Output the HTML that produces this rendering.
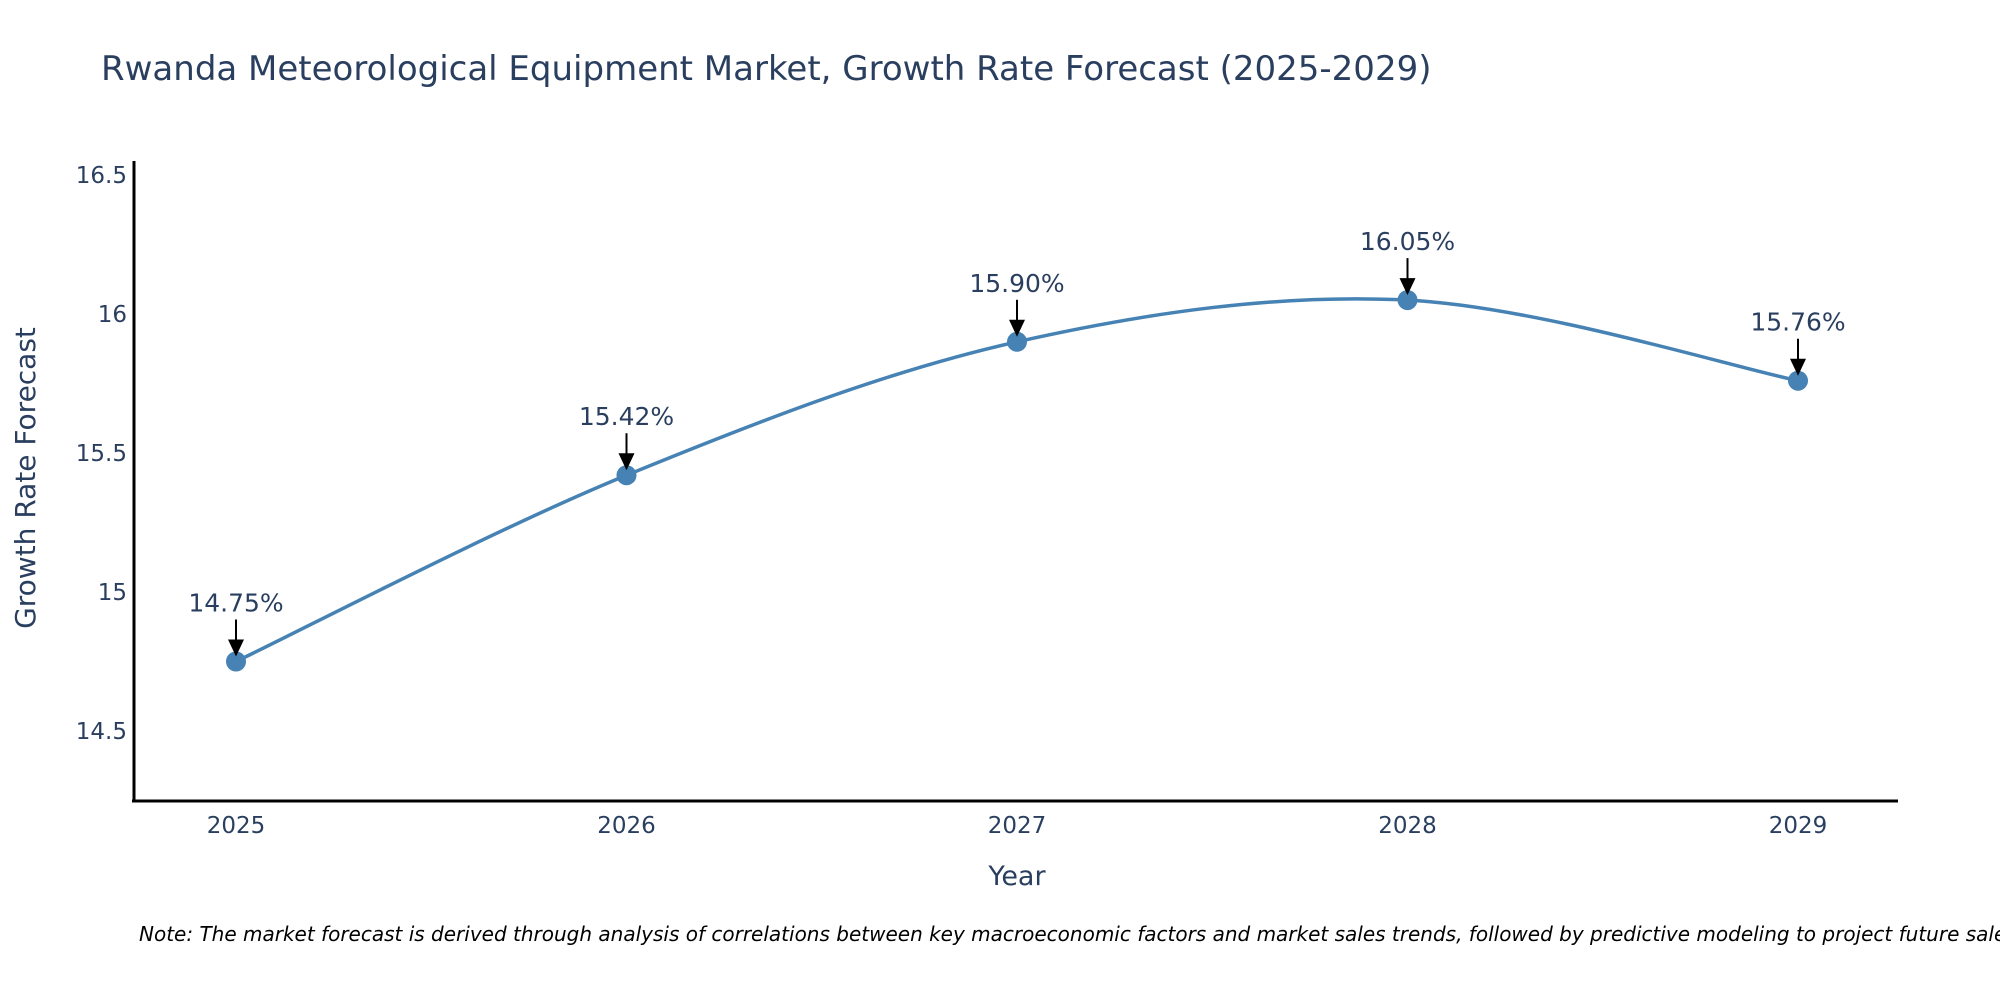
<!DOCTYPE html>
<html><head><meta charset="utf-8"><style>
body{margin:0;background:#fff;overflow:hidden;}
svg{display:block;font-family:"DejaVu Sans","Liberation Sans",sans-serif;}
</style></head><body>
<svg id="chart" width="2000" height="1000" viewBox="0 0 2000 1000">
<text x="101" y="80" font-size="34" fill="#2a3f5f">Rwanda Meteorological Equipment Market, Growth Rate Forecast (2025-2029)</text>
<g id="axes"></g>
<g id="plot"></g>
<text x="1017" y="885" font-size="27" fill="#2a3f5f" text-anchor="middle">Year</text>
<text transform="translate(35,478) rotate(-90)" font-size="28" fill="#2a3f5f" text-anchor="middle">Growth Rate Forecast</text>
<text x="139" y="941" font-size="20" font-style="italic" fill="#000">Note: The market forecast is derived through analysis of correlations between key macroeconomic factors and market sales trends, followed by predictive modeling to project future sales.</text>
</svg>
<script>
const years = [2025, 2026, 2027, 2028, 2029];
const values = [14.75, 15.42, 15.90, 16.05, 15.76];
const labels = ["14.75%", "15.42%", "15.90%", "16.05%", "15.76%"];
const yTicks = [14.5, 15, 15.5, 16, 16.5];
const yTickLabels = ["14.5", "15", "15.5", "16", "16.5"];

const NS = "http://www.w3.org/2000/svg";
const xs = y => 236 + (y - 2025) * 390.5;
const ys = v => 314 - (v - 16) * 278;
function mk(tag, attrs, parent, txt){const e=document.createElementNS(NS,tag);for(const k in attrs)e.setAttribute(k,attrs[k]);if(txt!==undefined)e.textContent=txt;parent.appendChild(e);return e;}
const axes=document.getElementById('axes'), plot=document.getElementById('plot');

const yl=mk('line',{x1:134,y1:161,x2:134,y2:802,stroke:'#000','stroke-width':3},axes);


const xl=mk('line',{x1:132,y1:801,x2:1898,y2:801,stroke:'#000','stroke-width':3},axes);


yTicks.forEach((t,i)=>{
  const e=mk('text',{x:127,y:ys(t)+8,'font-size':23,fill:'#2a3f5f','text-anchor':'end'},axes,yTickLabels[i]);
  
  
});
years.forEach(y=>{
  const e=mk('text',{x:xs(y),y:833,'font-size':23,fill:'#2a3f5f','text-anchor':'middle'},axes,String(y));
  
  
});

const P=years.map((y,i)=>[xs(y),ys(values[i])]);
let d=`M${P[0][0]},${P[0][1]}`;
const s=1/6;
for(let i=0;i<P.length-1;i++){
  const p0=P[Math.max(0,i-1)],p1=P[i],p2=P[i+1],p3=P[Math.min(P.length-1,i+2)];
  const c1=[p1[0]+(p2[0]-p0[0])*s,p1[1]+(p2[1]-p0[1])*s];
  const c2=[p2[0]-(p3[0]-p1[0])*s,p2[1]-(p3[1]-p1[1])*s];
  d+=` C${c1[0]},${c1[1]} ${c2[0]},${c2[1]} ${p2[0]},${p2[1]}`;
}
const line=mk('path',{d:d,fill:'none',stroke:'#4682b4','stroke-width':3.5},plot);



P.forEach((p,i)=>{
  const c=mk('circle',{cx:p[0],cy:p[1],r:10,fill:'#4682b4'},plot);
  
  
  const a=mk('line',{x1:p[0],y1:p[1]-42,x2:p[0],y2:p[1]-18,stroke:'#000','stroke-width':2},plot);
  
  
  const h=mk('polygon',{points:`${p[0]-8},${p[1]-22} ${p[0]+8},${p[1]-22} ${p[0]},${p[1]-5}`,fill:'#000'},plot);
  
  
  const t=mk('text',{x:p[0],y:p[1]-50,'font-size':25,fill:'#2a3f5f','text-anchor':'middle'},plot,labels[i]);
  
  
});
</script>
</body></html>
